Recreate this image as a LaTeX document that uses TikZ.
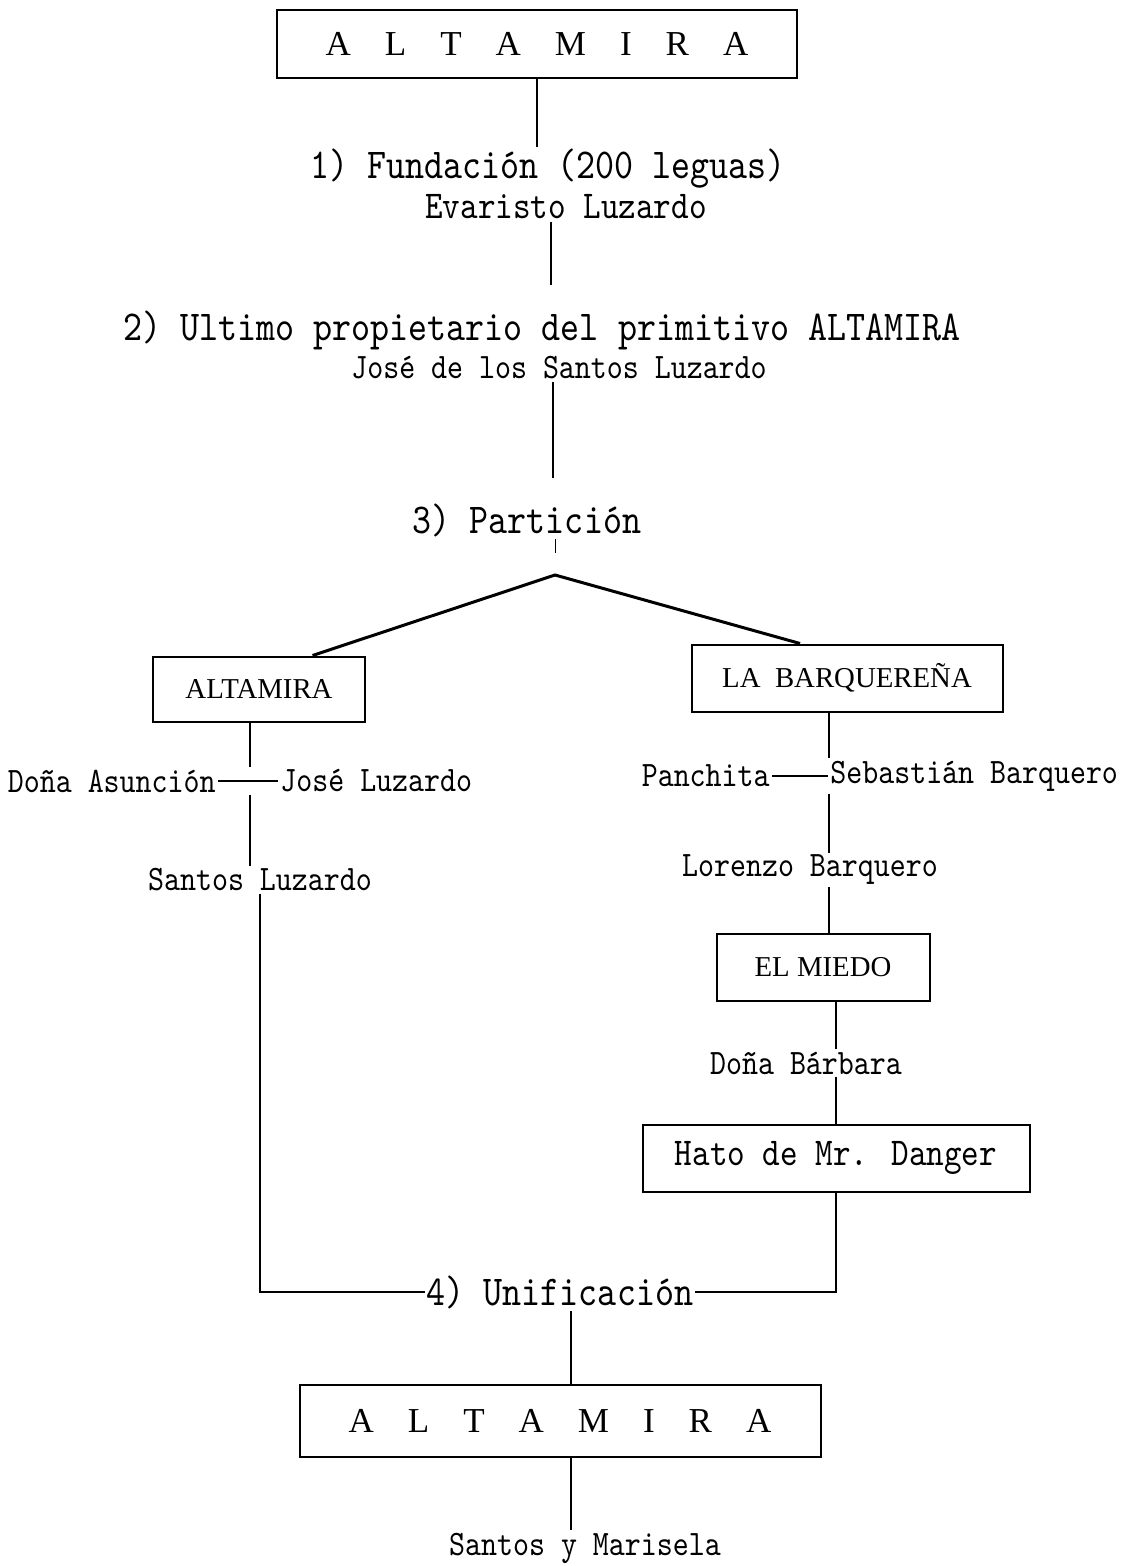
\documentclass[tikz,border=0pt]{standalone}
\usepackage{fontspec}
\setmainfont{Liberation Serif}
\newfontfamily\typewr[Extension=.otf, FakeStretch=0.85]{lmmono10-regular}
\usepackage{tikz}
\usetikzlibrary{calc}
\tikzstyle{estate} = [draw, line width=1pt, inner sep=0pt,
    font=\fontsize{14.4}{16}\selectfont]
\tikzstyle{person} = [inner sep=1pt, font=\typewr\fontsize{17.9}{20}\selectfont]
\tikzstyle{midline} = [inner sep=1pt, font=\typewr\fontsize{19.7}{22}\selectfont]
\tikzstyle{stage} = [inner sep=1pt, font=\typewr\fontsize{21.3}{24}\selectfont]
\tikzset{link/.style={line width=1pt}}
\newcommand{\spacedname}{A\hspace{17pt}L\hspace{17pt}T\hspace{17pt}A\hspace{17pt}M\hspace{17pt}I\hspace{17pt}R\hspace{17pt}A}

\begin{document}
\begin{tikzpicture}[x=0.5pt,y=-0.5pt]
\useasboundingbox (0,0) rectangle (1133,1566);
    \node[estate, minimum width=260pt, minimum height=34pt,
        font=\fontsize{17.5}{20}\selectfont] (top) at (537,44) {\spacedname};
    \node[stage] (fund) at (548,169) {1) Fundación (200 leguas)};
    \node[midline] (evar) at (566,207) {Evaristo Luzardo};
    \node[stage] (ult) at (542,330) {2) Ultimo propietario del primitivo ALTAMIRA};
    \node[person] (jsl) at (559,368) {José de los Santos Luzardo};
    \node[stage] (part) at (527,520) {3) Partición};
    \coordinate (apex) at (555,575);
    \coordinate (s2) at (551,285);
    \coordinate (s3) at (553,478);
    \node[estate, minimum width=106pt, minimum height=32.5pt] (alt) at (259,689) {ALTAMIRA};
    \node[estate, minimum width=155.5pt, minimum height=33.5pt] (barq) at (847,678) {LA\ \ BARQUEREÑA};
    % left branch
    \coordinate (ml) at (250,781);
    \node[person, anchor=east] (asun) at (218,781) {Doña Asunción};
    \node[person, anchor=west] (jluz) at (278,781) {José Luzardo};
    \node[person] (sluz) at (260,880) {Santos Luzardo};
    % right branch
    \coordinate (mr) at (829,776);
    \node[person, anchor=east] (panch) at (772,776) {Panchita};
    \node[person, anchor=west] (sbarq) at (828,776) {Sebastián Barquero};
    \node[person] (lbarq) at (810,870) {Lorenzo Barquero};
    \node[estate, minimum width=106.5pt, minimum height=33.5pt] (miedo) at (823,967) {EL\ MIEDO};
    \node[person] (bar) at (806,1063) {Doña Bárbara};
    \node[estate, minimum width=193.5pt, minimum height=33.5pt,
        font=\typewr\fontsize{19.7}{22}\selectfont] (hato) at (836,1158) {Hato de Mr. Danger};
    \node[stage] (unif) at (560,1292) {4) Unificación};
    \node[estate, minimum width=260.5pt, minimum height=36pt,
        font=\fontsize{17.5}{20}\selectfont] (bot) at (560,1421) {\spacedname};
    \node[person] (sym) at (585,1548) {Santos y Marisela};
    \coordinate (lc) at (571,1460);

    \draw[link] (top.south) -- (top.south |- fund.north);
    \draw[link] (evar.south -| s2) -- (s2);
    \draw[link] (jsl.south -| s3) -- (s3);
    \draw[thin] (part.south -| apex) -- ++(0,14);
    \draw[line width=1.5pt] ($(alt.north)!0.5!(alt.north east)$) -- (apex)
        -- ($(barq.north)!0.3!(barq.north west)$);
    \draw[link] (alt.south -| ml) -- (ml |- jluz.north);
    \draw[link] (asun.east) -- (jluz.west);
    \draw[link] (ml |- jluz.south) -- (ml |- sluz.north);
    \draw[link] (sluz.south) |- (unif.west);
    \draw[link] (barq.south -| mr) -- (mr |- sbarq.north);
    \draw[link] (panch.east) -- (sbarq.west);
    \draw[link] (mr |- sbarq.south) -- (mr |- lbarq.north);
    \draw[link] (mr |- lbarq.south) -- (mr |- miedo.north);
    \draw[link] (miedo.south -| hato.north) -- (hato.north |- bar.north);
    \draw[link] (hato.north |- bar.south) -- (hato.north);
    \draw[link] (hato.south) |- (unif.east);
    \draw[link] (unif.south -| lc) -- (bot.north -| lc);
    \draw[link] (bot.south -| lc) -- (sym.north -| lc);
\end{tikzpicture}
\end{document}
